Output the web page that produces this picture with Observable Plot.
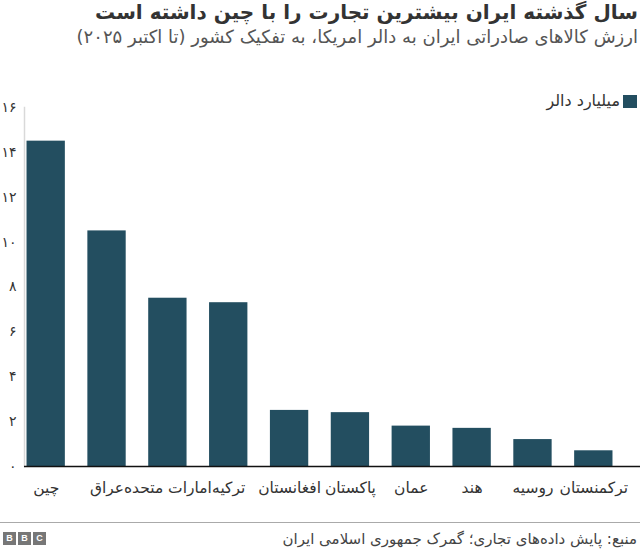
<!DOCTYPE html>
<html lang="fa">
<head>
<meta charset="utf-8">
<script src="https://cdn.jsdelivr.net/npm/d3@7"></script>
<script src="https://cdn.jsdelivr.net/npm/@observablehq/plot@0.6"></script>
<style>
html,body{margin:0;padding:0;background:#fff;width:640px;height:551px;overflow:hidden;font-family:"DejaVu Sans",sans-serif}
#head{height:93px;direction:rtl;position:relative}
#title{position:absolute;top:0;right:2px;font-size:20px;font-weight:bold;color:#333;white-space:nowrap;line-height:24px}
#sub{position:absolute;top:25px;right:2px;font-size:18px;color:#555;white-space:nowrap;line-height:24px}
#legend{position:absolute;top:92px;right:3px;display:flex;align-items:center;gap:3px;font-size:16px;color:#333;line-height:18px}
#sw{width:14px;height:13px;background:#234e60;display:inline-block}
#chart svg{display:block}
#foot{position:relative;height:28px;border-top:1px solid #aaa;width:640px}
#src{position:absolute;right:3px;top:5px;direction:rtl;font-size:15px;color:#444;white-space:nowrap;line-height:22px}
#bbc{position:absolute;left:3px;top:9px;display:flex;gap:2px}
#bbc span{width:13px;height:13px;background:#777;color:#fff;font:bold 9px/13px "Liberation Sans",sans-serif;text-align:center}
</style>
</head>
<body>
<div id="head">
<div id="title">سال گذشته ایران بیشترین تجارت را با چین داشته است</div>
<div id="sub">ارزش کالاهای صادراتی ایران به دالر امریکا، به تفکیک کشور (تا اکتبر ۲۰۲۵)</div>
<div id="legend"><span id="sw"></span><span>میلیارد دالر</span></div>
</div>
<div id="chart"></div>
<div id="foot">
<div id="bbc"><span>B</span><span>B</span><span>C</span></div>
<div id="src">منبع: پایش داده‌های تجاری؛ گمرک جمهوری اسلامی ایران</div>
</div>
<script>
const countries = ["چین","عراق","امارات متحده","ترکیه","افغانستان","پاکستان","عمان","هند","روسیه","ترکمنستان"];
const values = [14.5,10.5,7.5,7.3,2.5,2.4,1.8,1.7,1.2,0.7];
const yTicks = [0,2,4,6,8,10,12,14,16];
const yTickLabels = ["۰","۲","۴","۶","۸","۱۰","۱۲","۱۴","۱۶"];
const rows = countries.map((c,i)=>({country:c,value:values[i]}));

const plot = Plot.plot({
  width:640, height:429,
  marginTop:14, marginRight:0, marginBottom:56, marginLeft:24,
  style:{fontFamily:"'DejaVu Sans',sans-serif",color:"#333",background:"#fff"},
  x:{domain:countries,range:[4,635],padding:0.37,round:false,label:null},
  y:{domain:[0,16],label:null},
  marks:[
    Plot.frame({anchor:"left",stroke:"#d9d9d9",strokeWidth:1.5,strokeOpacity:1}),
    Plot.barY(rows,{x:"country",y:"value",fill:"#234e60"}),
    Plot.ruleY([0],{stroke:"#111",strokeWidth:1.5}),
    Plot.axisY({ticks:yTicks,tickSize:0,tickPadding:8,fontSize:14,label:null,
      tickFormat:d=>yTickLabels[yTicks.indexOf(d)]}),
    Plot.axisX({tickSize:0,tickPadding:15,fontSize:15.5,label:null})
  ]
});
document.getElementById("chart").appendChild(plot);
</script>
</body>
</html>
